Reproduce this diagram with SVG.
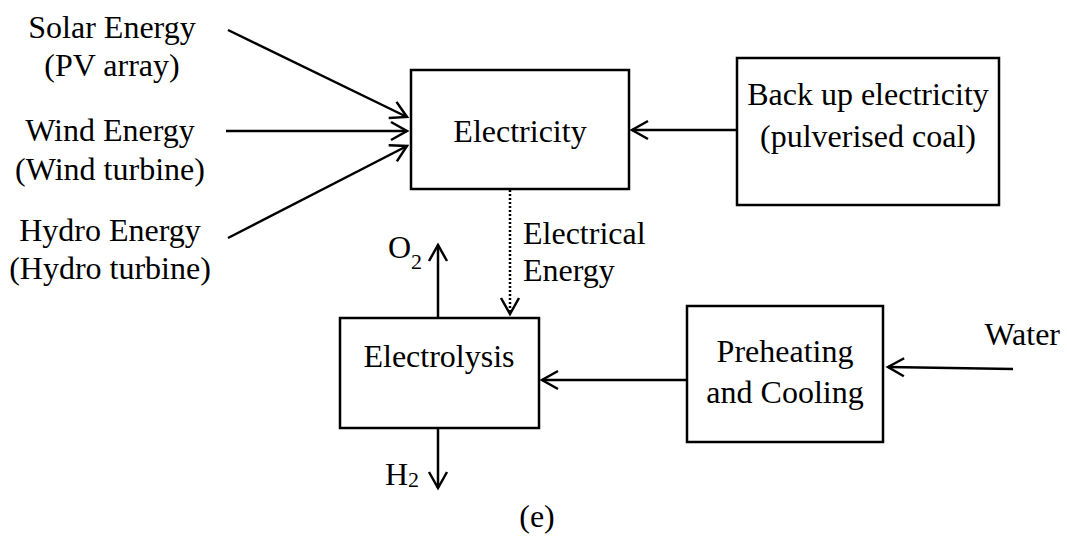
<svg xmlns="http://www.w3.org/2000/svg" width="1067" height="548" viewBox="0 0 1067 548">
<style>
text { font-family: "Liberation Serif", "Times New Roman", serif; font-size: 32px; fill: #000; }
.box { fill: #fff; stroke: #000; stroke-width: 2.5; }
.line { fill: none; stroke: #000; stroke-width: 2.5; }
.dot { fill: none; stroke: #000; stroke-width: 2.5; stroke-dasharray: 2 2; }
.sub { font-size: 22px; }
</style>
<defs>
<marker id="arr" markerUnits="userSpaceOnUse" markerWidth="20" markerHeight="22" viewBox="-18 -11 20 22" refX="0" refY="0" orient="auto" overflow="visible">
<polyline points="-16,-9 0,0 -16,9" fill="none" stroke="#000" stroke-width="2.5"/>
</marker>
</defs>
<rect width="1067" height="548" fill="#fff"/>
<g id="connectors">
<line class="line" x1="228" y1="30" x2="407" y2="117" marker-end="url(#arr)"/>
<line class="line" x1="226" y1="131" x2="407" y2="131" marker-end="url(#arr)"/>
<line class="line" x1="228" y1="238" x2="407" y2="146" marker-end="url(#arr)"/>
<line class="line" x1="737" y1="130" x2="632" y2="130" marker-end="url(#arr)"/>
<line class="dot" x1="510" y1="190" x2="510" y2="314"/>
<polyline class="line" points="501,298 510,314 519,298"/>
<line class="line" x1="438" y1="318" x2="438" y2="245" marker-end="url(#arr)"/>
<line class="line" x1="438" y1="428" x2="438" y2="488" marker-end="url(#arr)"/>
<line class="line" x1="687" y1="380" x2="542" y2="380" marker-end="url(#arr)"/>
<line class="line" x1="1013" y1="369" x2="888" y2="367" marker-end="url(#arr)"/>
</g>
<g id="solar">
<text x="112" y="38" text-anchor="middle">Solar Energy</text>
<text x="112" y="76" text-anchor="middle">(PV array)</text>
</g>
<g id="wind">
<text x="110" y="141" text-anchor="middle">Wind Energy</text>
<text x="110" y="180" text-anchor="middle">(Wind turbine)</text>
</g>
<g id="hydro">
<text x="110" y="241" text-anchor="middle">Hydro Energy</text>
<text x="110" y="279" text-anchor="middle">(Hydro turbine)</text>
</g>
<g id="electricity">
<rect class="box" x="411" y="70" width="218" height="119"/>
<text x="520" y="142" text-anchor="middle">Electricity</text>
</g>
<g id="backup">
<rect class="box" x="737" y="58" width="262" height="147"/>
<text x="868" y="105" text-anchor="middle">Back up electricity</text>
<text x="868" y="147" text-anchor="middle">(pulverised coal)</text>
</g>
<g id="electrical-energy">
<text x="523" y="244">Electrical</text>
<text x="523" y="281">Energy</text>
</g>
<g id="o2">
<text x="388" y="258">O<tspan class="sub" dy="11">2</tspan></text>
</g>
<g id="electrolysis">
<rect class="box" x="340" y="318" width="199" height="110"/>
<text x="439" y="367" text-anchor="middle">Electrolysis</text>
</g>
<g id="h2">
<text x="385" y="485">H<tspan class="sub" dy="2">2</tspan></text>
</g>
<g id="preheating">
<rect class="box" x="687" y="306" width="196" height="136"/>
<text x="785" y="362" text-anchor="middle">Preheating</text>
<text x="785" y="403" text-anchor="middle">and Cooling</text>
</g>
<g id="water">
<text x="1060" y="345" text-anchor="end">Water</text>
</g>
<g id="caption">
<text x="537" y="527" text-anchor="middle">(e)</text>
</g>
</svg>
